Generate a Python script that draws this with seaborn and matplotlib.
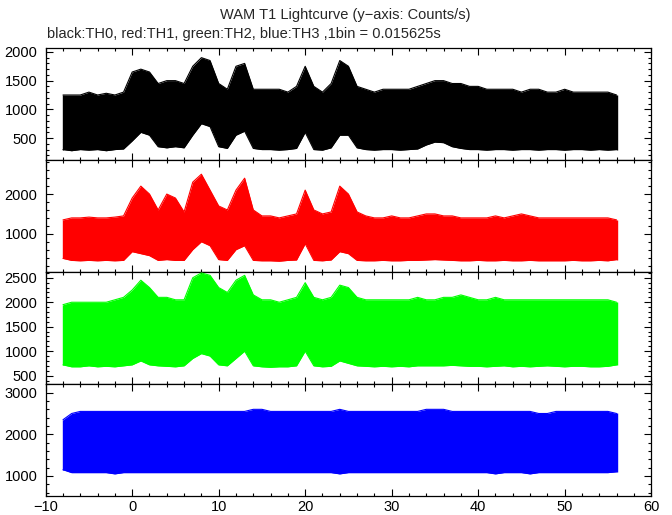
import numpy as np
import pandas as pd
import matplotlib
matplotlib.use("Agg")
import matplotlib.pyplot as plt
from matplotlib.ticker import MultipleLocator
import seaborn as sns

# time grid (s) of the envelope readings
t_sec = [-8, -7, -6, -5, -4, -3, -2, -1,
         0, 1, 2, 3, 4, 5, 6, 7, 8, 9,
         10, 11, 12, 13, 14, 15, 16, 17, 18, 19,
         20, 21, 22, 23, 24, 25, 26, 27, 28, 29,
         30, 31, 32, 33, 34, 35, 36, 37, 38, 39,
         40, 41, 42, 43, 44, 45, 46, 47, 48, 49,
         50, 51, 52, 53, 54, 55, 56]

# TH0 (black) envelope, counts/s
th0_upper = [1250, 1250, 1250, 1300, 1250, 1280, 1250, 1300,
             1650, 1700, 1650, 1450, 1500, 1500, 1450, 1750, 1900, 1850,
             1450, 1350, 1750, 1800, 1350, 1350, 1350, 1350, 1300, 1400,
             1750, 1400, 1300, 1450, 1850, 1750, 1400, 1350, 1300, 1350,
             1350, 1350, 1350, 1400, 1450, 1500, 1500, 1450, 1450, 1400,
             1400, 1350, 1350, 1350, 1350, 1300, 1350, 1350, 1300, 1300,
             1350, 1300, 1300, 1300, 1300, 1300, 1250]
th0_lower = [300, 280, 300, 290, 300, 280, 300, 310,
             450, 600, 550, 350, 330, 350, 330, 550, 750, 700,
             350, 320, 550, 620, 320, 300, 300, 290, 300, 320,
             600, 300, 290, 330, 550, 550, 330, 300, 290, 300,
             300, 290, 300, 310, 380, 430, 420, 350, 320, 300,
             300, 290, 300, 300, 290, 300, 300, 290, 300, 300,
             290, 300, 300, 290, 300, 290, 300]

# TH1 (red)
th1_upper = [1350, 1400, 1400, 1420, 1400, 1400, 1420, 1450,
             1900, 2200, 2000, 1600, 2000, 1900, 1550, 2300, 2500, 2100,
             1700, 1600, 2100, 2400, 1600, 1450, 1450, 1400, 1450, 1500,
             2100, 1600, 1500, 1550, 2200, 2000, 1550, 1450, 1400, 1400,
             1450, 1400, 1400, 1450, 1500, 1500, 1450, 1450, 1400, 1400,
             1400, 1400, 1450, 1400, 1450, 1500, 1450, 1400, 1400, 1400,
             1400, 1400, 1400, 1400, 1400, 1400, 1350]
th1_lower = [380, 330, 320, 330, 320, 330, 320, 330,
             550, 500, 450, 330, 350, 330, 330, 600, 800, 700,
             350, 330, 600, 700, 330, 320, 320, 310, 330, 340,
             750, 330, 320, 340, 550, 500, 330, 320, 320, 330,
             320, 320, 330, 330, 340, 350, 340, 330, 320, 320,
             330, 320, 320, 330, 320, 320, 330, 320, 320, 320,
             320, 330, 320, 320, 330, 320, 350]

# TH2 (green)
th2_upper = [1950, 2000, 2000, 2000, 2000, 2000, 2050, 2100,
             2250, 2450, 2300, 2100, 2100, 2050, 2050, 2500, 2600, 2550,
             2300, 2200, 2450, 2550, 2150, 2050, 2050, 2000, 2050, 2100,
             2400, 2100, 2050, 2100, 2350, 2300, 2100, 2050, 2050, 2050,
             2050, 2050, 2050, 2100, 2050, 2050, 2100, 2100, 2150, 2100,
             2050, 2050, 2100, 2050, 2050, 2050, 2050, 2050, 2050, 2050,
             2050, 2050, 2050, 2050, 2050, 2050, 2000]
th2_lower = [720, 680, 680, 700, 680, 690, 680, 700,
             720, 800, 720, 700, 690, 680, 700, 850, 950, 900,
             720, 700, 850, 1000, 700, 680, 670, 680, 680, 700,
             1000, 700, 680, 690, 800, 750, 700, 690, 680, 690,
             680, 690, 680, 700, 700, 700, 700, 710, 700, 690,
             690, 680, 690, 700, 680, 690, 680, 690, 700, 690,
             680, 690, 690, 680, 680, 690, 720]

# TH3 (blue)
th3_upper = [2350, 2500, 2550, 2550, 2550, 2550, 2550, 2550,
             2550, 2550, 2550, 2550, 2550, 2550, 2550, 2550, 2550, 2550,
             2550, 2550, 2550, 2550, 2600, 2600, 2550, 2550, 2550, 2550,
             2550, 2550, 2550, 2550, 2600, 2550, 2550, 2550, 2550, 2550,
             2550, 2550, 2550, 2550, 2600, 2600, 2600, 2550, 2550, 2550,
             2550, 2550, 2550, 2550, 2550, 2550, 2550, 2500, 2500, 2550,
             2550, 2550, 2550, 2550, 2550, 2550, 2500]
th3_lower = [1150, 1080, 1080, 1080, 1080, 1080, 1050, 1080,
             1080, 1080, 1080, 1080, 1080, 1080, 1080, 1080, 1080, 1080,
             1080, 1080, 1080, 1080, 1080, 1080, 1080, 1080, 1080, 1080,
             1080, 1080, 1080, 1080, 1050, 1080, 1080, 1080, 1080, 1080,
             1080, 1080, 1080, 1080, 1080, 1080, 1080, 1080, 1080, 1080,
             1080, 1080, 1050, 1080, 1080, 1080, 1050, 1080, 1080, 1080,
             1080, 1080, 1080, 1080, 1080, 1080, 1100]

series_names = ["TH0", "TH1", "TH2", "TH3"]
series_colors = ["#000000", "#ff0000", "#00ff00", "#0000ff"]
uppers = [th0_upper, th1_upper, th2_upper, th3_upper]
lowers = [th0_lower, th1_lower, th2_lower, th3_lower]
ylims = [(120, 2070), (40, 2860), (330, 2620), (520, 3210)]
yticks = [[500, 1000, 1500, 2000], [1000, 2000],
          [500, 1000, 1500, 2000, 2500], [1000, 2000, 3000]]
yminor = [100, 200, 100, 200]
xticks = [-10, 0, 10, 20, 30, 40, 50, 60]

title_text = "WAM T1 Lightcurve (y\u2212axis: Counts/s)"
subtitle_text = "black:TH0, red:TH1, green:TH2, blue:TH3 ,1bin = 0.015625s"

sns.set_theme(style="ticks")
plt.rcParams["font.family"] = ["Liberation Sans", "DejaVu Sans"]
plt.rcParams["font.size"] = 10.5

fig, axes = plt.subplots(4, 1, sharex=True, figsize=(6.72, 5.15), dpi=100)
fig.subplots_adjust(left=0.068, right=0.969, bottom=0.037, top=0.907, hspace=0)

for i, ax in enumerate(axes):
    df = pd.DataFrame({"t": t_sec, "upper": uppers[i], "lower": lowers[i]})
    c = series_colors[i]
    ax.fill_between(df["t"], df["lower"], df["upper"], color=c, lw=0, zorder=2)
    sns.lineplot(data=df, x="t", y="upper", color=c, lw=0.8, ax=ax, zorder=3)
    sns.lineplot(data=df, x="t", y="lower", color=c, lw=0.8, ax=ax, zorder=3)
    ax.vlines([t_sec[0], t_sec[-1]], lowers[i][0:1] + lowers[i][-1:],
              uppers[i][0:1] + uppers[i][-1:], color=c, lw=1, zorder=3)
    ax.set_xlim(-10, 60)
    ax.set_ylim(*ylims[i])
    ax.set_yticks(yticks[i])
    ax.yaxis.set_minor_locator(MultipleLocator(yminor[i]))
    ax.xaxis.set_minor_locator(MultipleLocator(2))
    ax.set_xticks(xticks)
    ax.set_xlabel("")
    ax.set_ylabel("")
    ax.tick_params(which="both", direction="in", top=True, right=True,
                   colors="black", labelsize=10.5)
    ax.tick_params(which="major", length=5, width=0.8)
    ax.tick_params(which="minor", length=2.5, width=0.8)
    ax.tick_params(axis="y", pad=6)
    ax.tick_params(axis="x", pad=3)
    for s in ax.spines.values():
        s.set_linewidth(0.9)
        s.set_color("black")
    ax.set_facecolor("white")

fig.text(0.514, 0.971, title_text, ha="center", va="center", fontsize=10.5)
fig.text(0.070, 0.934, subtitle_text, ha="left", va="center", fontsize=10.5)

fig.savefig("out.png", dpi=100, facecolor="white")
